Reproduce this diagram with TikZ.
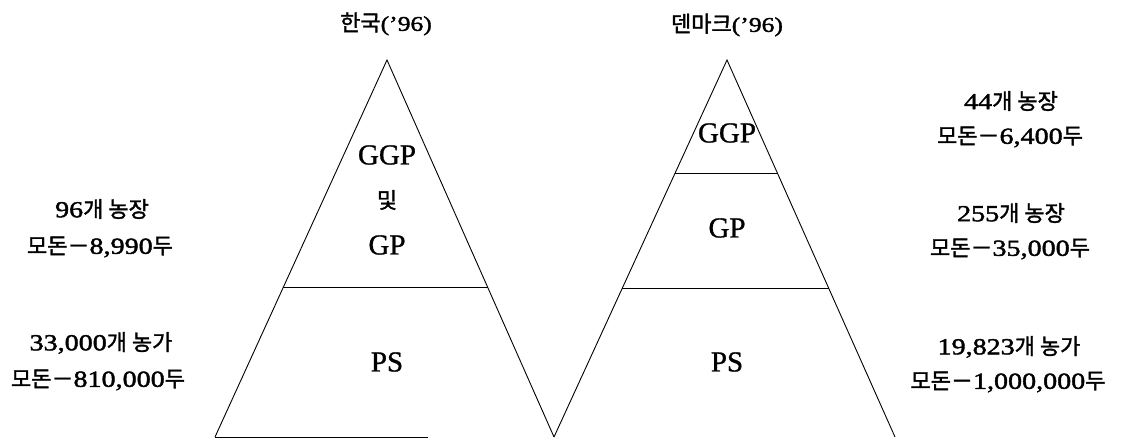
\documentclass[tikz,border=0pt]{standalone}
\usepackage{fontspec}
\setmainfont{Liberation Serif}
\newfontfamily\krfont[FakeBold=1.6]{Noto Sans CJK KR}
\newfontfamily\numfont[FakeStretch=1.22,FakeBold=1.8]{Liberation Serif}
\newfontfamily\secfont[FakeBold=1.0]{Liberation Serif}
\usetikzlibrary{calc}
\newcommand\K[1]{{\krfont\fontsize{22}{24}\selectfont #1}}
\begin{document}
\begin{tikzpicture}[x=1pt,y=-1pt,
  edge/.style={line width=0.9pt, black},
  lbl/.style={font=\numfont\fontsize{23}{26}\selectfont, align=center, inner sep=0pt},
  tl/.style={font=\numfont\fontsize{21}{24}\selectfont, inner sep=0pt},
  sec/.style={font=\secfont\fontsize{29}{32}\selectfont, align=center, inner sep=0pt}]
\useasboundingbox (0,0) rectangle (1127,438);
% left triangle
\coordinate (LA) at (387,60);
\coordinate (LL) at (215,437);
\coordinate (LR) at (554,437);
\coordinate (LB) at (428,437);
\coordinate (L1) at ($(LA)!0.602!(LL)$);
\coordinate (L2) at ($(LA)!0.602!(LR)$);
\draw[edge] (LL) -- (LA) -- (LR);
\draw[edge] (L1) -- (L2);
\draw[edge] (LL) -- (LB);
% right triangle
\coordinate (RA) at (727,60);
\coordinate (RR) at (895,437);
\coordinate (R1) at ($(RA)!0.300!(LR)$);
\coordinate (R2) at ($(RA)!0.300!(RR)$);
\coordinate (R3) at ($(RA)!0.605!(LR)$);
\coordinate (R4) at ($(RA)!0.605!(RR)$);
\draw[edge] (LR) -- (RA) -- (RR);
\draw[edge] (R1) -- (R2);
\draw[edge] (R3) -- (R4);
% titles
\node[tl] (t1) at (386,24) {\K{한국}(’96)};
\node[tl] (t2) at (727,25) {\K{덴마크}(’96)};
% section labels
\node[sec] (lggp) at (387,155) {GGP};
\node[sec] (lmid) at (387,200) {\K{및}};
\node[sec] (lgp) at (387,245) {GP};
\node[sec] (lps) at (387,362) {PS};
\node[sec] (rggp) at (727,133) {GGP};
\node[sec] (rgp) at (727,228) {GP};
\node[sec] (rps) at (727,362) {PS};
% side labels
\node[lbl] (a1) at (102,209) {96\K{개 농장}};
\node[lbl] (a2) at (100,247) {\K{모돈－}8,990\K{두}};
\node[lbl] (a3) at (101,343) {33,000\K{개 농가}};
\node[lbl] (a4) at (98,380) {\K{모돈－}810,000\K{두}};
\node[lbl] (b1) at (1011,101) {44\K{개 농장}};
\node[lbl] (b2) at (1010,137) {\K{모돈－}6,400\K{두}};
\node[lbl] (b3) at (1011,213) {255\K{개 농장}};
\node[lbl] (b4) at (1010,249) {\K{모돈－}35,000\K{두}};
\node[lbl] (b5) at (1009,347) {19,823\K{개 농가}};
\node[lbl] (b6) at (1008,382) {\K{모돈－}1,000,000\K{두}};
\end{tikzpicture}
\end{document}
